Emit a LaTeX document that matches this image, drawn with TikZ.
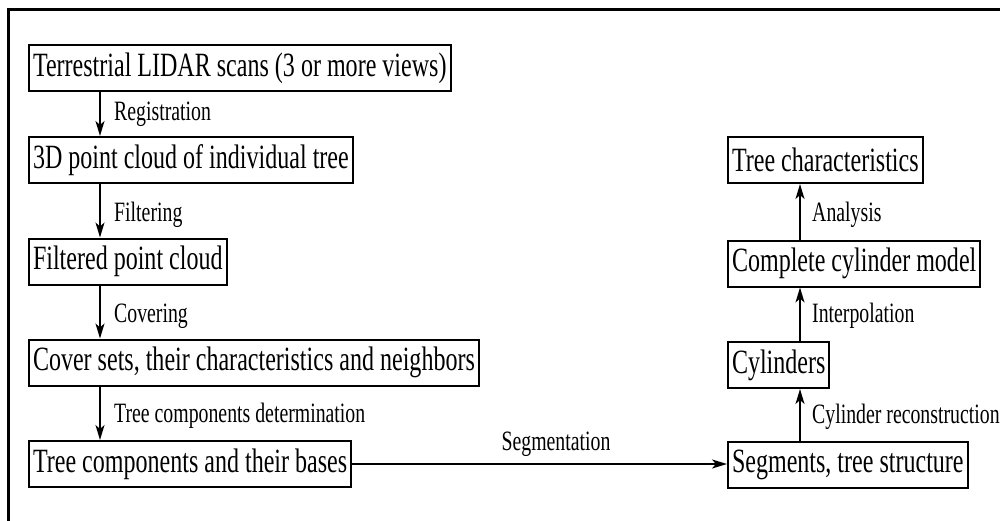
\documentclass[tikz,border=0pt]{standalone}
\usepackage{fontspec}
\setmainfont{Liberation Serif}[FakeStretch=0.707]
\usetikzlibrary{arrows.meta}
\begin{document}
\begin{tikzpicture}[x=1pt,y=-1pt,
  stepbox/.style={draw, line width=2pt, inner xsep=4pt, inner ysep=0pt, minimum height=46pt, anchor=west, font=\fontsize{34}{40}\selectfont},
  lbl/.style={anchor=west, inner sep=0pt, font=\fontsize{28}{32}\selectfont},
  arr/.style={line width=1.8pt, -{Stealth[length=15pt,width=9pt,inset=4pt]}}]
\useasboundingbox (0,0) rectangle (1000,521);
% frame
\draw[line width=3pt] (8,521) -- (8,10) -- (1000,10);
% left column
\node[stepbox] (b1) at (28,68.5) {Terrestrial LIDAR scans (3 or more views)};
\node[stepbox] (b2) at (28,160) {3D point cloud of individual tree};
\node[stepbox] (b3) at (28,261.5) {Filtered point cloud};
\node[stepbox] (b4) at (28,362.5) {Cover sets, their characteristics and neighbors};
\node[stepbox] (b5) at (28,464) {Tree components and their bases};
% right column
\node[stepbox] (r1) at (727,160) {Tree characteristics};
\node[stepbox] (r2) at (727,263.5) {Complete cylinder model};
\node[stepbox] (r3) at (727,365) {Cylinders};
\node[stepbox] (r4) at (727,465) {Segments, tree structure};
\coordinate (la) at (100,0);
\coordinate (ra) at (800,0);
\draw[arr] (b1.south -| la) -- (b2.north -| la);
\draw[arr] (b2.south -| la) -- (b3.north -| la);
\draw[arr] (b3.south -| la) -- (b4.north -| la);
\draw[arr] (b4.south -| la) -- (b5.north -| la);
\draw[arr] (b5.east) -- (r4.west |- b5.east);
\draw[arr] (r4.north -| ra) -- (r3.south -| ra);
\draw[arr] (r3.north -| ra) -- (r2.south -| ra);
\draw[arr] (r2.north -| ra) -- (r1.south -| ra);
\node[lbl] (l1) at (114,114) {Registration};
\node[lbl] (l2) at (114,215) {Filtering};
\node[lbl] (l3) at (114,316) {Covering};
\node[lbl] (l4) at (114,416) {Tree components determination};
\node[lbl, anchor=center] (l5) at (556,444) {Segmentation};
\node[lbl] (l6) at (812,215) {Analysis};
\node[lbl] (l7) at (812,316) {Interpolation};
\node[lbl] (l8) at (812,417) {Cylinder reconstruction};
\end{tikzpicture}
\end{document}
